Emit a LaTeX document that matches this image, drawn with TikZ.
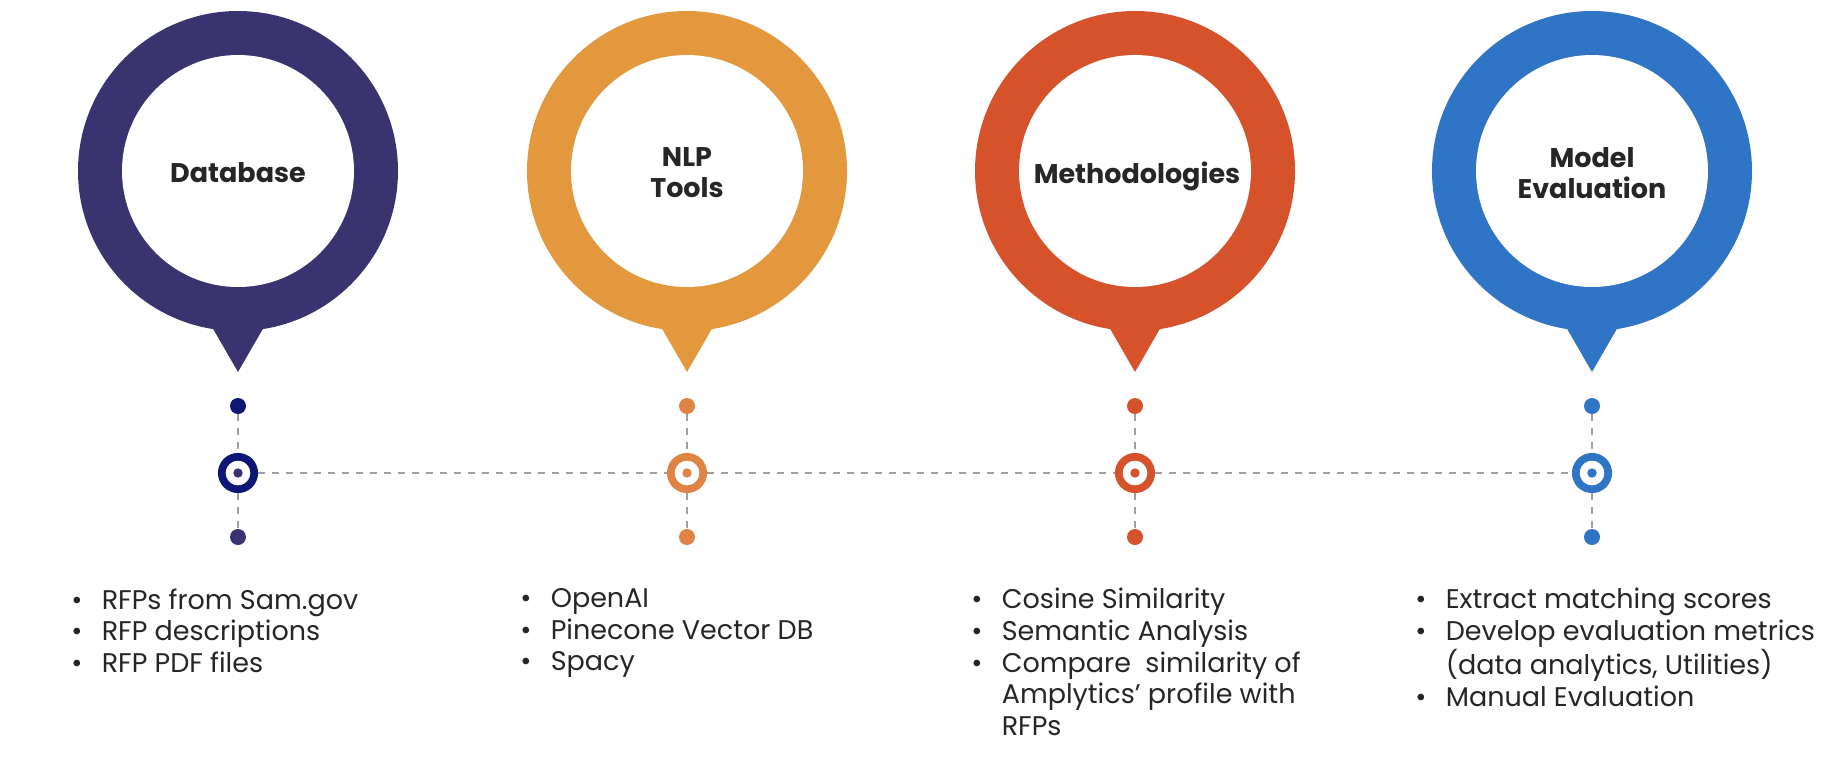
\documentclass[tikz,border=0pt]{standalone}
\usepackage{fontspec}
\setmainfont{Poppins}
\usetikzlibrary{positioning}

\definecolor{dbcol}{HTML}{39336F}
\definecolor{dbnavy}{HTML}{0E1775}
\definecolor{nlpcol}{HTML}{E3983D}
\definecolor{nlpdot}{HTML}{E08445}
\definecolor{metcol}{HTML}{D5522A}
\definecolor{evcol}{HTML}{2F74C5}
\definecolor{inkcol}{HTML}{262626}

\tikzset{
  pinring/.style={circle, inner sep=0pt, minimum size=160pt},
  pinhole/.style={circle, fill=white, inner sep=0pt, minimum size=116pt},
  pintitle/.style={font=\fontsize{13.5}{15.5}\selectfont\bfseries, text=inkcol,
    align=center, text depth=0pt},
  tdot/.style={circle, inner sep=0pt, minimum size=8pt},
  tring/.style={circle, inner sep=0pt, line width=3.85pt, minimum size=16.2pt, fill=white},
  tcore/.style={circle, inner sep=0pt, minimum size=4.7pt},
  tline/.style={gray!75, line width=0.6pt, dash pattern=on 3.5pt off 3.5pt},
  bullets/.style={font=\fontsize{13.5}{15.8}\selectfont, text=inkcol, align=left,
    anchor=north west, inner sep=0pt}
}
\newcommand{\bitem}{\makebox[15.2pt][l]{\textbullet}}
\newcommand{\bcont}{\hspace*{15.2pt}}

\begin{document}
\begin{tikzpicture}[x=0.5pt, y=-0.5pt]
  \useasboundingbox (0,0) rectangle (1844,756);

  % pins (tip first, then ring and white hole)
  \fill[dbcol] (208,320) -- (268,320) -- (238,372) -- cycle;
  \node[pinring, fill=dbcol] (db) at (238,171) {};
  \node[pinhole] at (db) {};
  \node[pintitle] (dbtitle) at (238,173) {Database};

  \fill[nlpcol] (657,320) -- (717,320) -- (687,372) -- cycle;
  \node[pinring, fill=nlpcol] (nlp) at (687,171) {};
  \node[pinhole] at (nlp) {};
  \node[pintitle] (nlptitle) at (687,173) {NLP\\Tools};

  \fill[metcol] (1105,320) -- (1165,320) -- (1135,372) -- cycle;
  \node[pinring, fill=metcol] (met) at (1135,171) {};
  \node[pinhole] at (met) {};
  \node[pintitle] (mettitle) at (1137,173) {Methodologies};

  \fill[evcol] (1562,320) -- (1622,320) -- (1592,372) -- cycle;
  \node[pinring, fill=evcol] (ev) at (1592,171) {};
  \node[pinhole] at (ev) {};
  \node[pintitle] (evtitle) at (1592,173) {Model\\Evaluation};

  % timeline markers
  \node[tdot, fill=dbnavy] (dbtop) at (238,406) {};
  \node[tring, draw=dbnavy] (dbmark) at (238,473) {};
  \node[tcore, fill=dbcol] at (dbmark) {};
  \node[tdot, fill=dbcol] (dbbot) at (238,537) {};

  \node[tdot, fill=nlpdot] (nlptop) at (687,406) {};
  \node[tring, draw=nlpdot] (nlpmark) at (687,473) {};
  \node[tcore, fill=nlpdot] at (nlpmark) {};
  \node[tdot, fill=nlpdot] (nlpbot) at (687,537) {};

  \node[tdot, fill=metcol] (mettop) at (1135,406) {};
  \node[tring, draw=metcol] (metmark) at (1135,473) {};
  \node[tcore, fill=metcol] at (metmark) {};
  \node[tdot, fill=metcol] (metbot) at (1135,537) {};

  \node[tdot, fill=evcol] (evtop) at (1592,406) {};
  \node[tring, draw=evcol] (evmark) at (1592,473) {};
  \node[tcore, fill=evcol] at (evmark) {};
  \node[tdot, fill=evcol] (evbot) at (1592,537) {};

  % dashed connectors
  \draw[tline] (dbmark) -- (nlpmark);
  \draw[tline] (nlpmark) -- (metmark);
  \draw[tline] (metmark) -- (evmark);
  \draw[tline] (dbtop) -- (dbmark);  \draw[tline] (dbmark) -- (dbbot);
  \draw[tline] (nlptop) -- (nlpmark); \draw[tline] (nlpmark) -- (nlpbot);
  \draw[tline] (mettop) -- (metmark); \draw[tline] (metmark) -- (metbot);
  \draw[tline] (evtop) -- (evmark);  \draw[tline] (evmark) -- (evbot);

  % bullet lists
  \node[bullets] (dblist) at (71,588) {\bitem RFPs from Sam.gov\\
    \bitem RFP descriptions\\ \bitem RFP PDF files};
  \node[bullets] (nlplist) at (520,588) {\bitem OpenAI\\
    \bitem Pinecone Vector DB\\ \bitem Spacy};
  \node[bullets] (metlist) at (971,588) {\bitem Cosine Similarity\\
    \bitem Semantic Analysis\\ \bitem Compare\ \ similarity of\\
    \bcont Amplytics’ profile with\\ \bcont RFPs};
  \node[bullets] (evlist) at (1415,588) {\bitem Extract matching scores\\
    \bitem Develop evaluation metrics\\ \bcont (data analytics, Utilities)\\
    \bitem Manual Evaluation};
\end{tikzpicture}
\end{document}
